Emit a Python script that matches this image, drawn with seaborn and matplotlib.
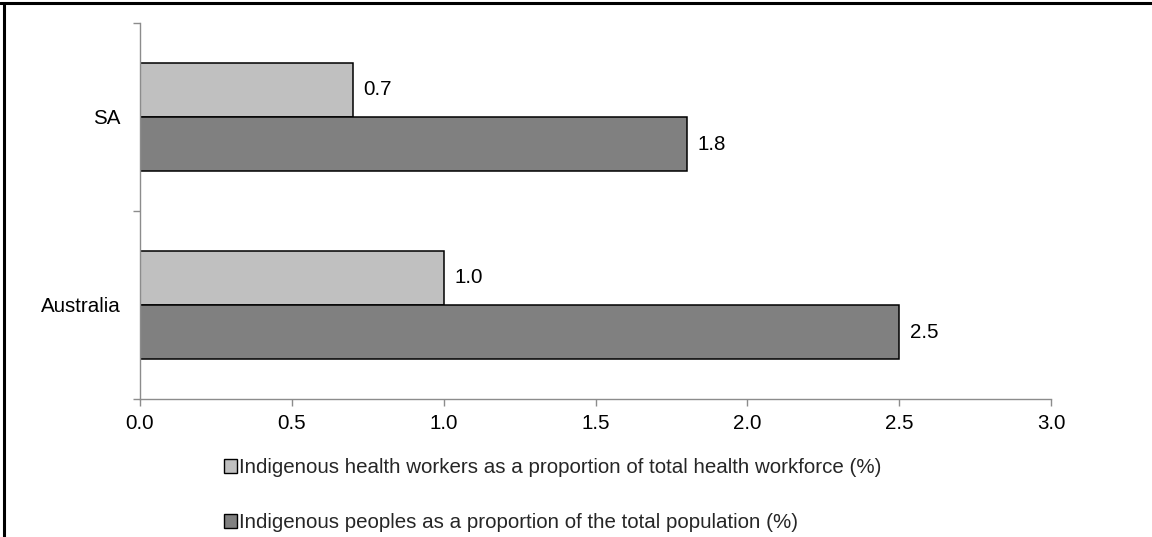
import matplotlib
matplotlib.use("Agg")
import matplotlib.pyplot as plt
from matplotlib.patches import Patch
from matplotlib.lines import Line2D
import seaborn as sns
import pandas as pd

# Data
regions = ["SA", "Australia"]
series_names = [
    "Indigenous health workers as a proportion of total health workforce (%)",
    "Indigenous peoples as a proportion of the total population (%)",
]
health_workers = [0.7, 1.0]
population = [1.8, 2.5]
x_ticks = [0.0, 0.5, 1.0, 1.5, 2.0, 2.5, 3.0]
series_colors = ["#C0C0C0", "#808080"]

df = pd.DataFrame({
    "region": regions * 2,
    "series": [series_names[0]] * len(regions) + [series_names[1]] * len(regions),
    "value": health_workers + population,
})

sns.set_theme(style="white")
plt.rcParams["font.family"] = ["Liberation Sans", "DejaVu Sans"]
FS = 14.8

fig = plt.figure(figsize=(11.52, 5.37), dpi=100)
ax = fig.add_axes([140 / 1152, 1 - 399 / 537, (1051 - 140) / 1152, (399 - 23) / 537])

sns.barplot(
    data=df, y="region", x="value", hue="series",
    order=regions, hue_order=series_names, palette=series_colors,
    orient="h", width=0.575, edgecolor="black", linewidth=1.1,
    errorbar=None, legend=False, ax=ax, saturation=1,
)

for cont in ax.containers:
    ax.bar_label(cont, fmt="%.1f", padding=7.5, fontsize=FS, color="black")

ax.set_xlim(0, 3.0)
ax.set_ylim(1.5, -0.5)
ax.set_xticks(x_ticks)
ax.set_xticklabels([f"{t:.1f}" for t in x_ticks], fontsize=FS, color="black")
ax.set_yticks(range(len(regions)))
ax.set_yticklabels(regions, fontsize=FS, color="black")
ax.set_yticks([-0.5, 0.5, 1.5], minor=True)
ax.tick_params(axis="y", which="major", length=0, pad=14)
ax.tick_params(axis="y", which="minor", length=5, width=1.0, color="#8C8C8C", direction="out", left=True)
ax.tick_params(axis="x", which="major", length=5, width=1.0, color="#8C8C8C", direction="out", bottom=True, pad=6)
ax.set_xlabel("")
ax.set_ylabel("")

for side in ["top", "right"]:
    ax.spines[side].set_visible(False)
for side in ["left", "bottom"]:
    ax.spines[side].set_color("#8C8C8C")
    ax.spines[side].set_linewidth(1.0)

handles = [Patch(facecolor=c, edgecolor="black", linewidth=1.0) for c in series_colors]
fig.legend(
    handles, series_names, loc="upper left", bbox_to_anchor=(224 / 1152, 1 - 458 / 537),
    frameon=False, fontsize=FS, handlelength=0.65, handleheight=0.65,
    handletextpad=0.1, labelspacing=1.75, borderaxespad=0, borderpad=0,
)

# Outer frame (top and left edges)
fig.add_artist(Line2D([0, 1], [1 - 2.5 / 537] * 2, transform=fig.transFigure, color="black", linewidth=2.2))
fig.add_artist(Line2D([3.5 / 1152] * 2, [0, 1 - 2.5 / 537], transform=fig.transFigure, color="black", linewidth=2.2))

fig.savefig("out.png", dpi=100)
